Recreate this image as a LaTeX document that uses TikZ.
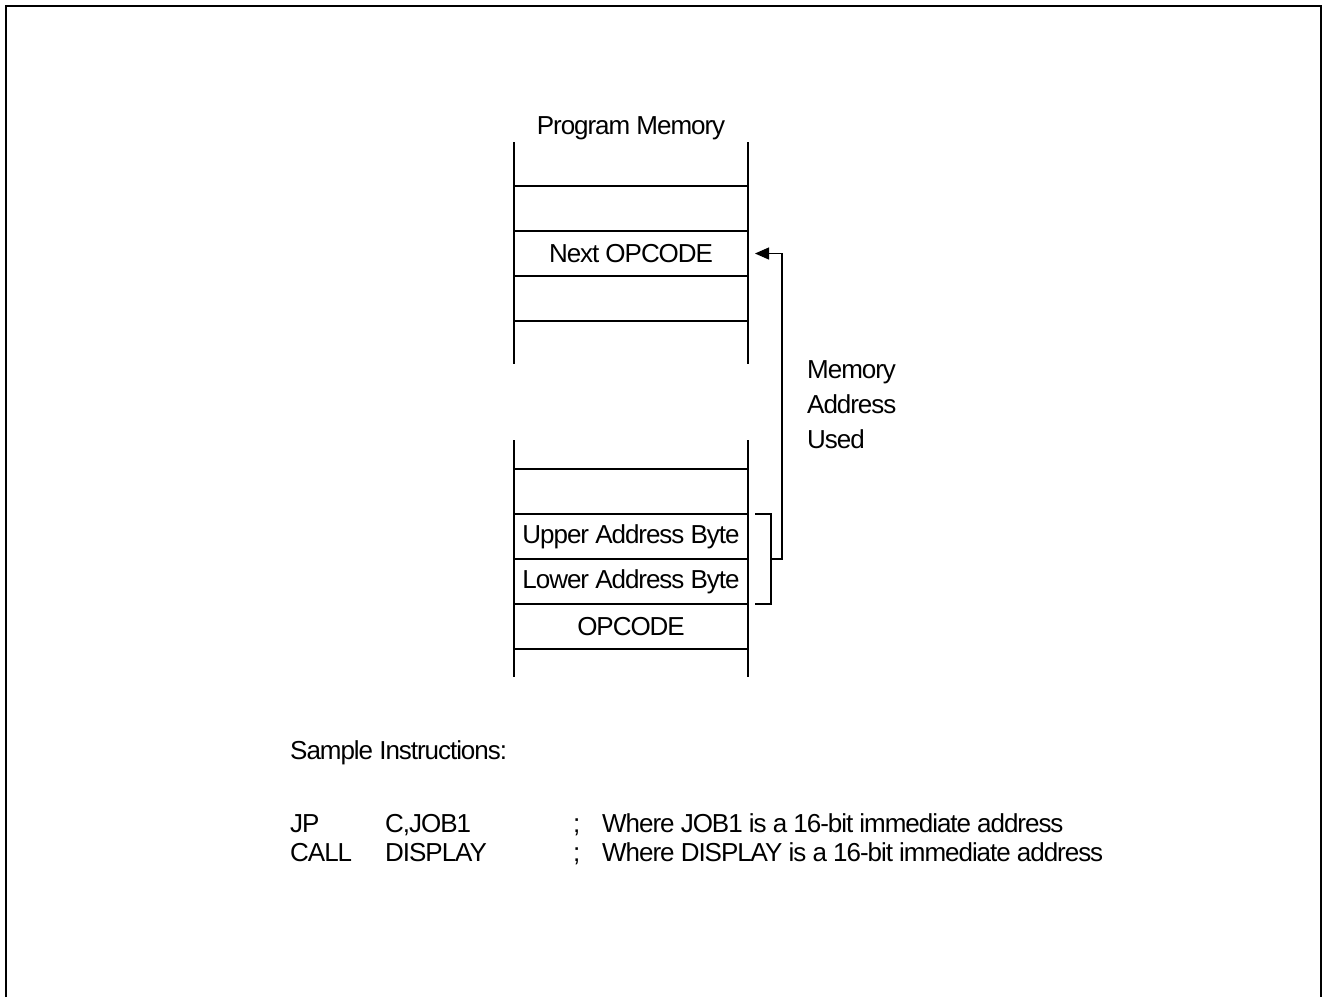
\documentclass[tikz,border=0pt]{standalone}
\usepackage{fontspec}
\setmainfont[LetterSpace=-4]{Liberation Sans}
\usetikzlibrary{positioning,arrows.meta}
\tikzset{
  cell/.style={draw,line width=1.2pt,minimum width=234pt,minimum height=45pt,
    inner sep=0pt,outer sep=0pt,font=\fontsize{26}{30}\selectfont},
  txt/.style={inner sep=0pt,anchor=base west,font=\fontsize{26}{30}\selectfont},
  wall/.style={line width=1.2pt},
  addrflow/.style={-{Triangle[length=14pt,width=12pt]},line width=1.2pt},
  frame/.style={line width=2.4pt}
}
\begin{document}
\begin{tikzpicture}[x=1pt,y=-1pt,node distance=0pt]
  \useasboundingbox (0,0) rectangle (1323,997);
  \draw[frame] (6,997) -- (6,6) -- (1321,6) -- (1321,997);
  % upper part of program memory
  \node[txt,anchor=base] (title) at (631,134) {Program Memory};
  \node[cell] (u1) at (631,208.5) {};
  \node[cell,below=of u1] (next) {Next OPCODE};
  \node[cell,below=of next] (u3) {};
  \draw[wall] (514,142) -- (514,364) (748,142) -- (748,364);
  % lower part of program memory
  \node[cell] (l1) at (631,491.5) {};
  \node[cell,below=of l1] (upper) {Upper Address Byte};
  \node[cell,below=of upper] (lower) {Lower Address Byte};
  \node[cell,below=of lower] (opcode) {OPCODE};
  \draw[wall] (514,440) -- (514,677) (748,440) -- (748,677);
  % address bracket and jump
  \draw[wall] ([xshift=7pt]upper.north east) -| ([xshift=23pt]lower.south east)
    -- ([xshift=7pt]lower.south east);
  \draw[addrflow] ([xshift=23pt]upper.south east) -- ++(11,0) |- ([xshift=7pt]next.east);
  \node[txt] (mem) at (807,378) {Memory};
  \node[txt] (addr) at (807,413) {Address};
  \node[txt] (used) at (807,448) {Used};
  % sample instructions
  \node[txt] (sample) at (290,759) {Sample Instructions:};
  \node[txt] (jp) at (290,832) {JP};
  \node[txt] (jparg) at (385,832) {C,JOB1};
  \node[txt] (jpsemi) at (573,832) {;};
  \node[txt] (jpnote) at (602,832) {Where JOB1 is a 16-bit immediate address};
  \node[txt] (call) at (290,861) {CALL};
  \node[txt] (callarg) at (385,861) {DISPLAY};
  \node[txt] (callsemi) at (573,861) {;};
  \node[txt] (callnote) at (602,861) {Where DISPLAY is a 16-bit immediate address};
\end{tikzpicture}
\end{document}
